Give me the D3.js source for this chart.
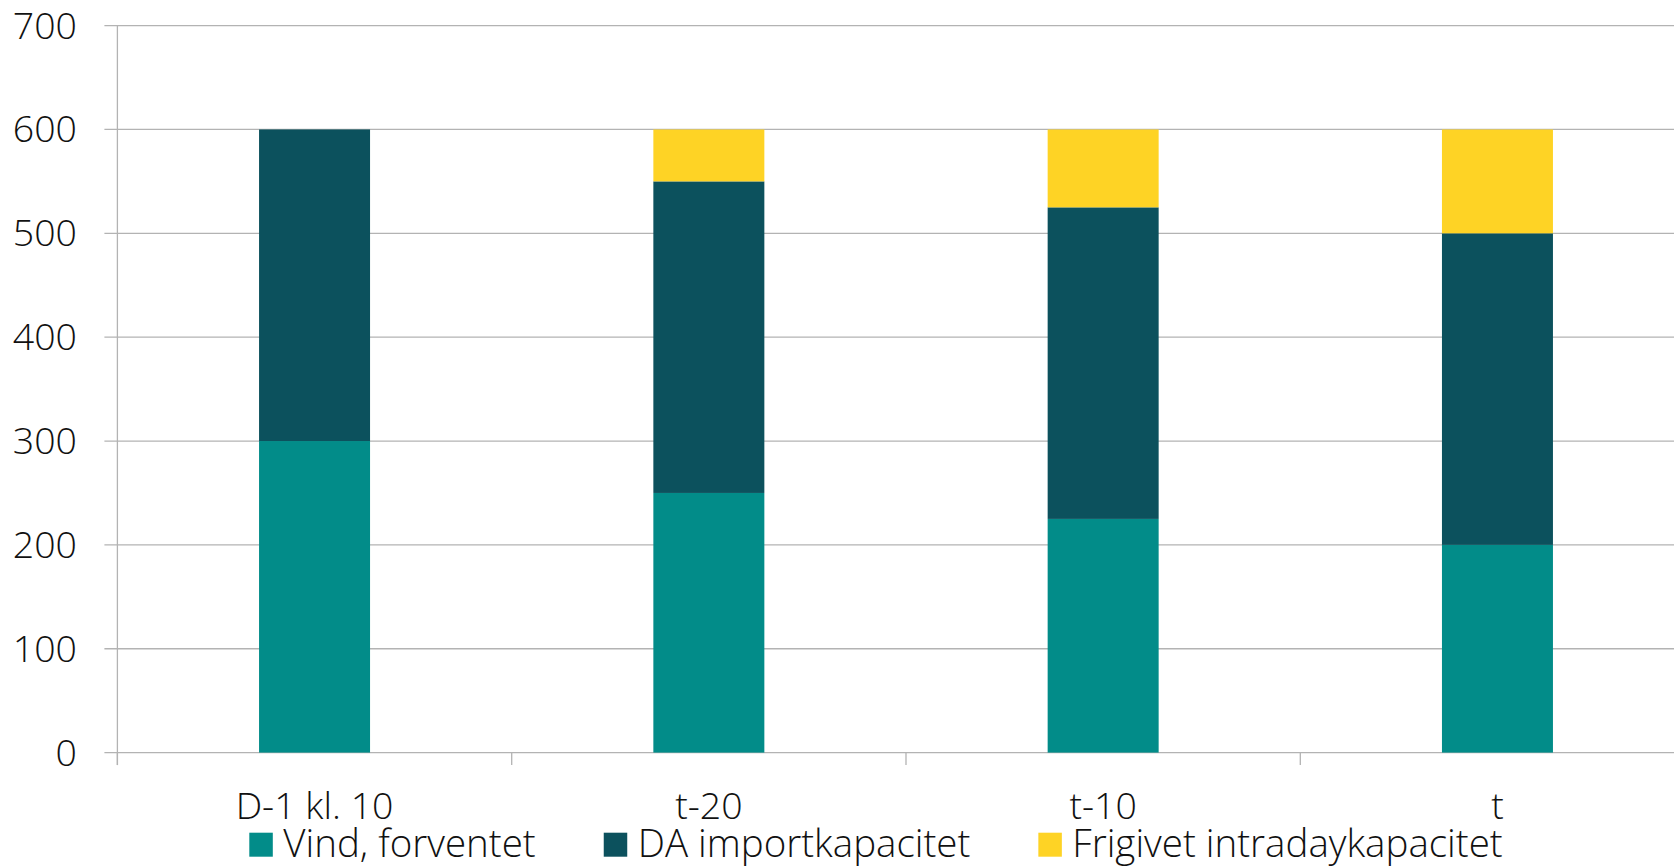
<!DOCTYPE html>
<html>
<head>
<meta charset="utf-8">
<script src="https://cdn.jsdelivr.net/npm/d3@7/dist/d3.min.js"></script>
<style>
  html, body { margin: 0; padding: 0; background: #ffffff; overflow: hidden; }
  svg { display: block; }
  text { font-family: "Open Sans", "Noto Sans", sans-serif; font-weight: 300; fill: #111111; }
</style>
</head>
<body>
<svg id="chart" width="1674" height="867"></svg>
<script>
const categories = ["D-1 kl. 10", "t-20", "t-10", "t"];
const seriesNames = ["Vind, forventet", "DA importkapacitet", "Frigivet intradaykapacitet"];
const vind = [300, 250, 225, 200];
const daImport = [300, 300, 300, 300];
const frigivet = [0, 50, 75, 100];
const yTicks = [0, 100, 200, 300, 400, 500, 600, 700];
const colors = ["#028c89", "#0c515d", "#fed325"];

const svg = d3.select("#chart");
const W = 1674, H = 867;
const plotLeft = 117.4, plotTop = 25.6, plotBottom = 752.6;
const bandW = 394.3;
const plotRight = plotLeft + bandW * categories.length;

const x = d3.scaleBand().domain(categories).range([plotLeft, plotRight]).paddingInner(0).paddingOuter(0);
const y = d3.scaleLinear().domain([0, 700]).range([plotBottom, plotTop]);

const rows = categories.map((c, i) => ({ cat: c, s0: vind[i], s1: daImport[i], s2: frigivet[i] }));
const stack = d3.stack().keys(["s0", "s1", "s2"]);
const stacked = stack(rows);

const fontSize = 37.5;
const legendFontSize = 38.5;

// gridlines
const grid = svg.append("g");
grid.selectAll("line").data(yTicks).enter().append("line")
  .attr("x1", plotLeft - 13).attr("x2", W)
  .attr("y1", d => y(d)).attr("y2", d => y(d))
  .attr("stroke", "#b3b3b3").attr("stroke-width", 1.3);

// y axis vertical line
svg.append("line")
  .attr("x1", plotLeft).attr("x2", plotLeft)
  .attr("y1", y(700)).attr("y2", plotBottom + 12.5)
  .attr("stroke", "#b3b3b3").attr("stroke-width", 1.3);

// category boundary ticks
const boundaries = categories.map(c => x(c)).concat([plotRight]);
svg.append("g").selectAll("line").data(boundaries).enter().append("line")
  .attr("x1", d => d).attr("x2", d => d)
  .attr("y1", plotBottom).attr("y2", plotBottom + 12.5)
  .attr("stroke", "#b3b3b3").attr("stroke-width", 1.3);

// bars
const barFrac = 0.2815;
const barW = x.bandwidth() * barFrac;
svg.append("g").selectAll("g").data(stacked).enter().append("g")
  .attr("fill", (d, i) => colors[i])
  .selectAll("rect").data(d => d).enter().append("rect")
  .attr("x", d => x(d.data.cat) + x.bandwidth() / 2 - barW / 2)
  .attr("width", barW)
  .attr("y", d => y(d[1]))
  .attr("height", d => Math.max(0, y(d[0]) - y(d[1])));

// y labels
svg.append("g").selectAll("text").data(yTicks).enter().append("text")
  .attr("x", 77).attr("y", d => y(d) + 13)
  .attr("text-anchor", "end")
  .attr("font-size", fontSize)
  .text(d => d);

// x labels
svg.append("g").selectAll("text").data(categories).enter().append("text")
  .attr("x", d => x(d) + x.bandwidth() / 2)
  .attr("y", 819)
  .attr("text-anchor", "middle")
  .attr("font-size", fontSize)
  .text(d => d);

// legend
const legend = svg.append("g");
let lx = 249.3;
seriesNames.forEach((name, i) => {
  legend.append("rect")
    .attr("x", lx).attr("y", 832.7).attr("width", 23.5).attr("height", 24)
    .attr("fill", colors[i]);
  const t = legend.append("text")
    .attr("x", lx + 34).attr("y", 856.5)
    .attr("font-size", legendFontSize)
    .text(name);
  const w = t.node().getComputedTextLength();
  lx = lx + 34 + w + 68;
});
</script>
</body>
</html>
